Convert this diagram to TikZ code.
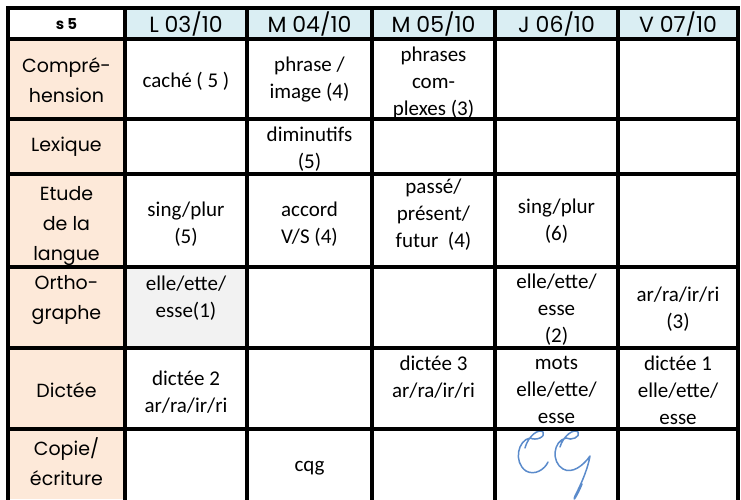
\documentclass[tikz,border=0pt]{standalone}
\usepackage{fontspec}
\setmainfont{Carlito}
\newfontfamily\comic{Poppins}
\definecolor{peach}{HTML}{FDE9D9}
\definecolor{lblue}{HTML}{DAEEF3}
\definecolor{lgrey}{HTML}{F2F2F2}
\definecolor{ink}{HTML}{5B8BCB}
\tikzset{
  cell/.style={align=center, inner sep=0pt, font=\fontsize{21}{27}\selectfont},
  rowhead/.style={align=center, inner sep=0pt, font=\comic\fontsize{19}{30}\selectfont},
  colhead/.style={align=center, inner sep=0pt, font=\comic\fontsize{22}{24}\selectfont},
  grid/.style={line width=3.5pt, line cap=rect, black},
  hand/.style={draw=ink, line width=1.5pt, line cap=round, line join=round}
}
\begin{document}
\begin{tikzpicture}[x=1pt, y=-1pt]
\useasboundingbox (0,0) rectangle (741,499);
\begin{scope}
\clip (0,0) rectangle (741,499);
% fills
\fill[lblue] (125,8) rectangle (738,39);
\fill[peach] (8,39) rectangle (125,499);
\fill[lgrey] (125,267) rectangle (247,348);
% column headers
\node[colhead, font=\comic\bfseries\fontsize{15}{16}\selectfont] (hs) at (66.5,24) {s 5};
\node[colhead] (hl) at (186,24) {L 03/10};
\node[colhead] (hma) at (309.5,24) {M 04/10};
\node[colhead] (hmb) at (433.5,24) {M 05/10};
\node[colhead] (hj) at (556.5,24) {J 06/10};
\node[colhead] (hv) at (678,24) {V 07/10};
% row headers
\node[rowhead] (rcomp) at (66.5,80) {Compré-\\hension};
\node[rowhead] (rlex) at (66.5,147) {Lexique};
\node[rowhead] (retu) at (66.5,226) {Etude\\de la\\langue};
\node[rowhead] (rort) at (66.5,300) {Ortho-\\graphe};
\node[rowhead] (rdic) at (66.5,390) {Dictée};
\node[rowhead] (rcop) at (66.5,462) {Copie/\\écriture};
% cells
\node[cell] (c11) at (186,81) {caché ( 5 )};
\node[cell] (c12) at (309.5,80) {phrase /\\image (4)};
\node[cell] (c13) at (433.5,83) {phrases\\com-\\plexes (3)};
\node[cell] (c22) at (309.5,149) {diminutifs\\(5)};
\node[cell] (c31) at (186,224) {sing/plur\\(5)};
\node[cell] (c32) at (309.5,224) {accord\\V/S (4)};
\node[cell] (c33) at (433.5,215) {passé/\\présent/\\futur~ (4)};
\node[cell] (c34) at (556.5,221) {sing/plur\\(6)};
\node[cell] (c41) at (186,298) {elle/ette/\\esse(1)};
\node[cell] (c44) at (556.5,310) {elle/ette/\\esse\\(2)};
\node[cell] (c45) at (678,309) {ar/ra/ir/ri\\(3)};
\node[cell] (c51) at (186,392) {dictée 2\\ar/ra/ir/ri};
\node[cell] (c53) at (433.5,377) {dictée 3\\ar/ra/ir/ri};
\node[cell] (c54) at (556.5,390) {mots\\elle/ette/\\esse};
\node[cell] (c55) at (678,390) {dictée 1\\elle/ette/\\esse};
\node[cell] (c62) at (309.5,468) {cqg};
% handwritten CG
\draw[hand] (525,448) .. controls (528,436) and (539,428) .. (543,432)
  .. controls (546,437) and (536,441) .. (530,438)
  .. controls (518,440) and (513,462) .. (526,471)
  .. controls (535,476) and (545,469) .. (548,462);
\draw[hand] (560,447) .. controls (563,436) and (574,428) .. (578,432)
  .. controls (581,437) and (571,441) .. (566,438)
  .. controls (553,441) and (551,462) .. (563,469)
  .. controls (572,474) and (583,466) .. (590,456)
  .. controls (587,472) and (580,486) .. (575,496)
  .. controls (572,504) and (578,494) .. (582,484);
% grid
\foreach \xx in {8,125,247,372,495,618,738} \draw[grid] (\xx,8) -- (\xx,502);
\foreach \yy in {8,39,119,174,267,348,429} \draw[grid] (8,\yy) -- (738,\yy);
\end{scope}
\end{tikzpicture}
\end{document}
